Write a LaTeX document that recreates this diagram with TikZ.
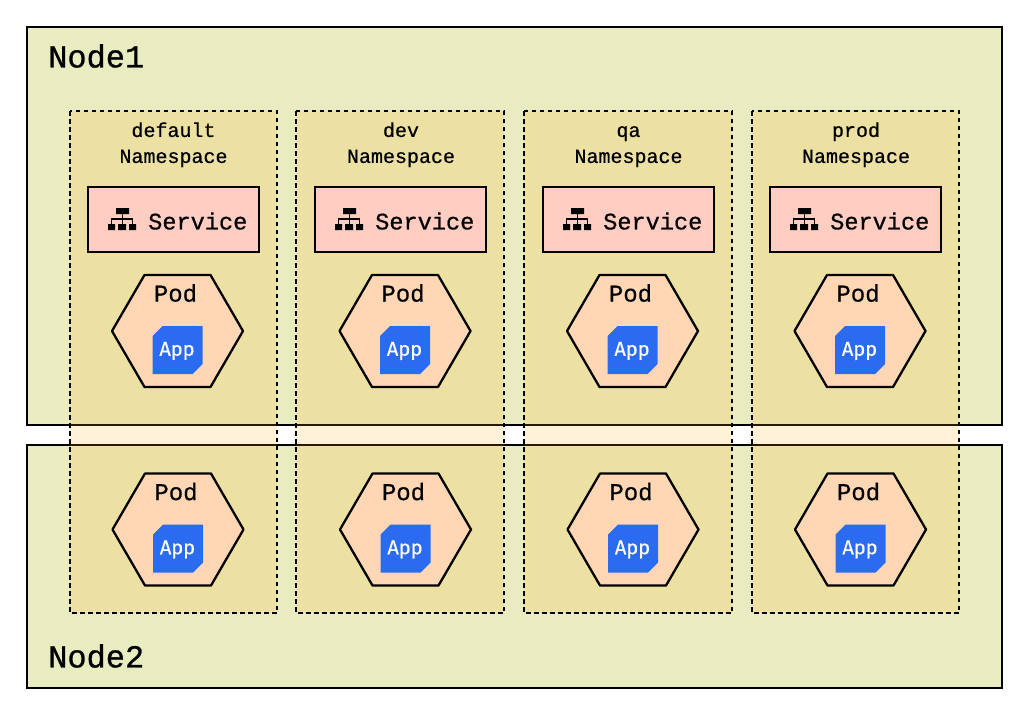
\documentclass[tikz,border=0pt]{standalone}
\usepackage{fontspec}
\newfontfamily\hostfont{Liberation Mono}[FakeBold=0.9]
\newfontfamily\labelfont{Liberation Mono}[FakeBold=0.6]
\newfontfamily\appfont{Fira Sans}[FakeBold=0.3]
\definecolor{nodebg}{HTML}{E9EBC0}
\definecolor{nsfill}{HTML}{FFA800}
\definecolor{svcfill}{HTML}{FFCDC2}
\definecolor{podfill}{HTML}{FFD7B5}
\definecolor{appfill}{HTML}{2A6BEF}
\newcommand{\lineheight}{\rule{0pt}{15pt}}
\tikzset{
  x=1pt,y=-1pt,
  hostbox/.style={draw=black,line width=2.3pt,fill=nodebg},
  hosttext/.style={font=\hostfont\fontsize{32}{36}\selectfont,anchor=west,inner sep=0pt},
  nsbox/.style={draw=black,line width=2.3pt,dash pattern=on 4.5pt off 3.5pt,fill=nsfill,fill opacity=.15,draw opacity=1},
  nstext/.style={font=\labelfont\fontsize{20}{26}\selectfont,inner sep=0pt,align=center},
  svcbox/.style={draw=black,line width=2.3pt,fill=svcfill},
  svctext/.style={font=\labelfont\fontsize{23.6}{28}\selectfont,anchor=west,inner sep=0pt},
  podshape/.style={draw=black,line width=2.3pt,fill=podfill,line join=round},
  podtext/.style={font=\labelfont\fontsize{24}{28}\selectfont,inner sep=0pt},
  appshape/.style={fill=appfill},
  apptext/.style={font=\appfont\fontsize{20}{24}\selectfont,text=white,inner sep=0pt},
}
\newcommand{\podpic}[3]{%
  \begin{scope}[shift={(#1,#2)}]
    \draw[podshape] (-65.5,0) -- (-33,-56) -- (33,-56) -- (65.5,0) -- (33,56) -- (-33,56) -- cycle;
    \node[podtext] (pod#3) at (-2,-38) {Pod};
    \fill[appshape] (-25,5) -- (-15,-5) -- (25,-5) -- (25,33) -- (15,43) -- (-25,43) -- cycle;
    \node[apptext] (app#3) at (-0.5,20) {App};
  \end{scope}}
\newcommand{\svcpic}[2]{%
  \begin{scope}[shift={(#1,0)}]
    \node[svcbox,minimum width=171pt,minimum height=65pt,inner sep=0pt] (svc#2) at (85.5,219.5) {};
    \fill (28,208) rectangle (41,214) (20,224) rectangle (27,230) (30,224) rectangle (38,230) (41,224) rectangle (48,230);
    \draw[line width=1.5pt] (34.5,214) -- (34.5,224) (23.5,224) -- (23.5,219) -- (44.5,219) -- (44.5,224);
    \node[svctext] (svctxt#2) at (60,221) {Service};
  \end{scope}}
\begin{document}
\begin{tikzpicture}
\useasboundingbox (0,0) rectangle (1024,713);
\fill[white] (0,0) rectangle (1024,713);
\draw[hostbox] (27,27) rectangle (1002,425);
\draw[hostbox] (27,445) rectangle (1002,688);
\node[hosttext] (nodeone) at (48,56) {Node1};
\node[hosttext] (nodetwo) at (48,656) {Node2};
\foreach \xa/\xb in {70/277,296/504,524/732,752/959}{
  \draw[nsbox] (\xa,111) rectangle (\xb,613);
}
\node[nstext] (nsa) at (173.5,144.5) {\lineheight default\\Namespace};
\node[nstext] (nsb) at (401,144.5) {\lineheight dev\\Namespace};
\node[nstext] (nsc) at (628.5,144.5) {\lineheight qa\\Namespace};
\node[nstext] (nsd) at (856,144.5) {\lineheight prod\\Namespace};
\svcpic{88}{a}\svcpic{315}{b}\svcpic{543}{c}\svcpic{770}{d}
\podpic{177.5}{331}{a}\podpic{405}{331}{b}\podpic{632.5}{331}{c}\podpic{860}{331}{d}
\podpic{178}{529.5}{e}\podpic{405.5}{529.5}{f}\podpic{633}{529.5}{g}\podpic{860.5}{529.5}{h}
\end{tikzpicture}
\end{document}
